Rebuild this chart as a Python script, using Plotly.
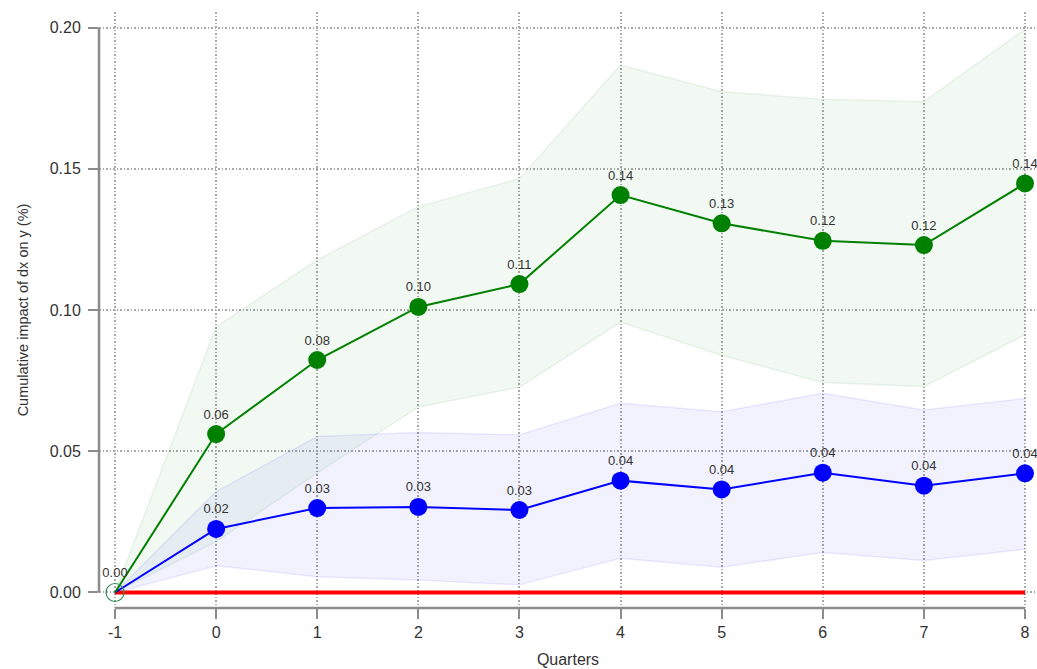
import plotly.graph_objects as go

# Horizon (quarters) and cumulative responses
quarters = [-1, 0, 1, 2, 3, 4, 5, 6, 7, 8]

green_mean = [0.0, 0.0561, 0.0823, 0.1011, 0.1092, 0.1407, 0.1307, 0.1245, 0.1230, 0.1448]
green_upper = [0.0, 0.0941, 0.1177, 0.1366, 0.1465, 0.1867, 0.1773, 0.1746, 0.1737, 0.1994]
green_lower = [0.0, 0.0180, 0.0423, 0.0657, 0.0727, 0.0957, 0.0840, 0.0743, 0.0729, 0.0912]

blue_mean = [0.0, 0.0225, 0.0299, 0.0303, 0.0292, 0.0396, 0.0365, 0.0424, 0.0378, 0.0422]
blue_upper = [0.0, 0.0357, 0.0552, 0.0566, 0.0558, 0.0670, 0.0640, 0.0705, 0.0646, 0.0687]
blue_lower = [0.0, 0.0095, 0.0056, 0.0044, 0.0027, 0.0121, 0.0089, 0.0142, 0.0113, 0.0153]

y_ticks = [0.0, 0.05, 0.10, 0.15, 0.20]

SANS = "Liberation Sans, Arial, sans-serif"
TICK_FONT = dict(family=SANS, size=16, color="#333333")
LABEL_FONT = dict(family=SANS, size=13, color="#333333")
AXIS_GREY = "#8c8c8c"
GRID = dict(showgrid=True, gridcolor="#a8a8a8", gridwidth=1.5, griddash="1.5px,2px")

fig = go.Figure()


def add_band(lower, upper, fill, edge):
    fig.add_trace(go.Scatter(x=quarters, y=upper, mode="lines",
                             line=dict(color=edge, width=1.5),
                             hoverinfo="skip", showlegend=False))
    fig.add_trace(go.Scatter(x=quarters, y=lower, mode="lines",
                             line=dict(color=edge, width=1.5),
                             fill="tonexty", fillcolor=fill,
                             hoverinfo="skip", showlegend=False))


add_band(green_lower, green_upper, "rgba(0,128,0,0.05)", "rgba(0,128,0,0.08)")
add_band(blue_lower, blue_upper, "rgba(0,0,255,0.05)", "rgba(0,0,255,0.08)")

# zero reference line
fig.add_trace(go.Scatter(x=[quarters[0], quarters[-1]], y=[0, 0], mode="lines",
                         line=dict(color="#ff0000", width=4),
                         hoverinfo="skip", showlegend=False))


def add_series(mean, color):
    fig.add_trace(go.Scatter(
        x=quarters[1:], y=mean[1:], mode="lines+markers+text",
        line=dict(color=color, width=2),
        marker=dict(color=color, size=18),
        text=[f"{v:.2f}" for v in mean[1:]],
        textposition="top center", textfont=LABEL_FONT,
        showlegend=False))
    # segment from the origin point
    fig.add_trace(go.Scatter(x=quarters[:2], y=mean[:2], mode="lines",
                             line=dict(color=color, width=2),
                             hoverinfo="skip", showlegend=False))


add_series(blue_mean, "#0000ff")
add_series(green_mean, "#008000")

# origin marker
fig.add_trace(go.Scatter(
    x=[quarters[0]], y=[green_mean[0]], mode="markers+text",
    marker=dict(size=18, color="rgba(0,0,0,0)", line=dict(color="#2e8b57", width=1.2)),
    text=[f"{green_mean[0]:.2f}"], textposition="top center", textfont=LABEL_FONT,
    showlegend=False))

# axis domain lines
fig.add_shape(type="line", xref="x", yref="paper", x0=quarters[0], x1=quarters[-1], y0=0, y1=0,
              line=dict(color=AXIS_GREY, width=2.5))
fig.add_shape(type="line", xref="paper", yref="y", x0=0, x1=0, y0=y_ticks[0], y1=y_ticks[-1],
              line=dict(color=AXIS_GREY, width=2.5))

fig.update_xaxes(
    range=[-1.1582, 8.1187], tickmode="array", tickvals=quarters,
    ticktext=[str(q) for q in quarters],
    showline=False, zeroline=False, **GRID,
    ticks="outside", ticklen=10, tickwidth=2, tickcolor=AXIS_GREY,
    tickfont=TICK_FONT,
    title=dict(text="Quarters", font=dict(family=SANS, size=16, color="#333333"),
               standoff=13),
)
fig.update_yaxes(
    range=[-0.00549, 0.2055], tickmode="array", tickvals=y_ticks,
    ticktext=[f"{v:.2f}" for v in y_ticks],
    showline=False, zeroline=False, **GRID,
    ticks="outside", ticklen=10, tickwidth=2, tickcolor=AXIS_GREY,
    tickfont=TICK_FONT, ticklabelstandoff=4,
    title=dict(text="Cumulative impact of dx on y (%)",
               font=dict(family=SANS, size=14.5, color="#333333"), standoff=17),
)

fig.update_layout(
    width=1037, height=669,
    margin=dict(l=99, r=0, t=12, b=61),
    plot_bgcolor="white", paper_bgcolor="white",
    showlegend=False,
)

fig.write_html("out.html")
